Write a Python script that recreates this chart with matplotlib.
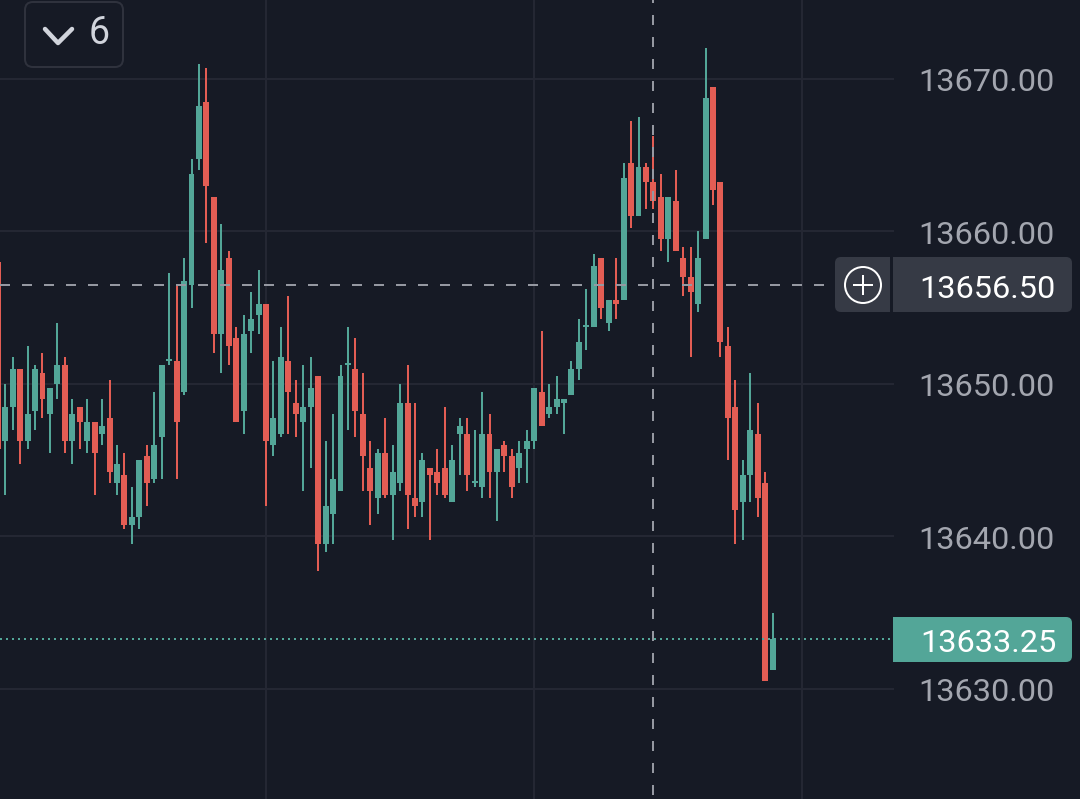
import matplotlib
matplotlib.use('Agg')
import matplotlib.pyplot as plt
from matplotlib.patches import FancyBboxPatch, Rectangle, Circle

opens = [13658, 13646.25, 13648.5, 13651, 13646.25, 13648.25, 13650.75, 13648, 13650, 13651.25,
         13646.25, 13648.5, 13646.25, 13647.5, 13646.75, 13647.75, 13643.5, 13644, 13640.75, 13641.25,
         13645.25, 13643.75, 13646.5, 13651.5, 13651.5, 13649.5, 13656.5, 13664.75, 13668.5, 13662.25,
         13653.25, 13658.25, 13653, 13648.25, 13653.5, 13654.5, 13655.25, 13646, 13646.75, 13651.5,
         13648.75, 13647.5, 13648.5, 13650.5, 13639.5, 13641.5, 13643, 13651.25, 13651, 13648,
         13644.5, 13642.5, 13645.5, 13642.75, 13643.5, 13648.75, 13642.5, 13642.25, 13644.5, 13644.25,
         13644.5, 13642.25, 13646.75, 13646.75, 13643.5, 13643.25, 13646.75, 13644.25, 13646, 13645.25,
         13644.5, 13645.75, 13646.25, 13649.5, 13648, 13648.5, 13648.75, 13649.25, 13651, 13653.75,
         13653.75, 13658.25, 13654, 13655.5, 13655.5, 13664.5, 13661, 13664.25, 13663.25, 13662.25,
         13659.5, 13662, 13658.25, 13657, 13655.25, 13659.5, 13669.5, 13663.25, 13652.5, 13648.5,
         13642.25, 13644, 13646.75, 13643.5, 13631.25]
highs = [13658, 13650, 13651.75, 13651, 13652.5, 13651.25, 13652, 13649.75, 13654, 13651.75,
         13649, 13648.5, 13649, 13647.5, 13649, 13650.25, 13646, 13645.5, 13643.25, 13645,
         13646, 13649.5, 13651.25, 13657.25, 13656.5, 13658.25, 13664.75, 13671, 13670.75, 13662.25,
         13660.5, 13658.75, 13653.75, 13654.5, 13656, 13657.5, 13655.25, 13651.5, 13653.75, 13655.75,
         13650.25, 13651.25, 13651.75, 13650.5, 13646.25, 13648, 13651.25, 13653.75, 13653, 13650.75,
         13646.25, 13645.75, 13647.75, 13646, 13650, 13651.25, 13648.75, 13645.5, 13644.5, 13645.75,
         13648.5, 13646, 13647.75, 13647.75, 13647, 13649.5, 13648, 13645.75, 13646.25, 13645.75,
         13646.25, 13647, 13649.75, 13653.5, 13650, 13650.5, 13649, 13651.5, 13654.25, 13656.25,
         13658.5, 13658.25, 13655.5, 13658.25, 13664.5, 13667.25, 13667.5, 13664.5, 13666.25, 13663.75,
         13662.25, 13664, 13659, 13659, 13660, 13672, 13669.5, 13663.25, 13653.75, 13650.25,
         13645, 13650.75, 13648.75, 13644.25, 13635]
lows = [13645.75, 13642.75, 13647, 13644.75, 13645.75, 13647, 13647.75, 13645.5, 13649, 13645.5,
        13644.75, 13645.75, 13645.5, 13642.75, 13646, 13643.5, 13642.75, 13640.5, 13639.5, 13640.5,
        13642, 13643.5, 13643.75, 13651.25, 13643.75, 13649.25, 13655, 13664, 13659.25, 13652,
        13650.75, 13651.25, 13647.5, 13646.75, 13652, 13653.25, 13642, 13645.25, 13646.5, 13646.75,
        13646.5, 13643, 13644.5, 13637.75, 13639, 13639.5, 13643, 13647, 13646.5, 13643,
        13640.75, 13641.5, 13642.5, 13639.75, 13643, 13640.5, 13641.25, 13641.25, 13639.75, 13642.75,
        13642.5, 13642.25, 13644, 13643, 13643.25, 13642.5, 13642.5, 13641, 13644.25, 13642.5,
        13643.5, 13643.5, 13645.75, 13647.25, 13647.75, 13648, 13646.75, 13649.25, 13650.25, 13652.25,
        13653.75, 13654.25, 13653.5, 13654.25, 13655.5, 13660.25, 13661, 13661.5, 13661.5, 13658.75,
        13658, 13658.75, 13655.75, 13651.75, 13654.75, 13659.5, 13661.75, 13651.75, 13645, 13639.5,
        13639.75, 13642.25, 13641.25, 13630.5, 13631.25]
closes = [13645.75, 13648.5, 13651, 13646.25, 13648, 13651, 13649, 13649.75, 13651.25, 13646.25,
          13648, 13647.5, 13647.5, 13645.5, 13647.25, 13644.25, 13644.75, 13640.75, 13641.25, 13645,
          13643.5, 13646, 13651.25, 13651.5, 13647.5, 13656.75, 13663.75, 13668.25, 13663, 13653.25,
          13657.5, 13652.5, 13647.5, 13653.25, 13654.25, 13655.25, 13646.25, 13647.75, 13651.75, 13649.5,
          13648, 13648.5, 13649.75, 13639.5, 13642, 13643.75, 13650.5, 13651.25, 13648.25, 13645.25,
          13643, 13645.5, 13642.75, 13644.25, 13648.75, 13642.75, 13642, 13645, 13644, 13643.5,
          13642.75, 13645, 13647.25, 13644, 13643.5, 13646.75, 13644.25, 13645.75, 13645.25, 13643.25,
          13645.5, 13646.25, 13649.75, 13647.25, 13648.5, 13649, 13649, 13651, 13652.75, 13653.75,
          13657.75, 13655, 13655.5, 13655.25, 13663.5, 13661, 13664.25, 13663.25, 13662, 13659.5,
          13662.25, 13658.75, 13657, 13656, 13658.25, 13668.75, 13662.75, 13652.75, 13647.75, 13641.75,
          13644, 13647, 13642.5, 13630.5, 13633.25]
price_ticks = [13630, 13640, 13650, 13660, 13670]
crosshair_price = 13656.50
last_price = 13633.25
crosshair_bar = 88
grid_bars = [36, 72, 107.9]
badge_count = "6"

BG = '#161a25'
GRID = '#242733'
UP = '#53a698'
DOWN = '#e35d54'
LABEL = '#a3a6af'
CROSS = '#9598a1'
PANEL = '#363a45'

px = 1 / 100 * 72  # one pixel in points

fig = plt.figure(figsize=(10.8, 7.99), dpi=100, facecolor=BG)
ax = fig.add_axes([0, 0, 1, 1], facecolor=BG)
ax.set_xlim(36 - 266 / 7.45, 36 + (1080 - 266) / 7.45)
ax.set_ylim(13630 - 110 / 15.25, 13630 + 689 / 15.25)
ax.axis('off')

# grid
plot_right = 893 / 1080
for p in price_ticks:
    ax.axhline(p, xmin=0, xmax=plot_right, color=GRID, lw=2 * px, zorder=1)
for b in grid_bars:
    ax.axvline(b, color=GRID, lw=2 * px, zorder=1)

# candles
bars = list(range(len(opens)))
colors = [UP if c >= o else DOWN for o, c in zip(opens, closes)]
ax.vlines(bars, lows, highs, colors=colors, lw=2 * px, zorder=2)
bottoms = [min(o, c) for o, c in zip(opens, closes)]
heights = [max(abs(c - o), 0.12) for o, c in zip(opens, closes)]
ax.bar(bars, heights, bottom=bottoms, width=0.8, color=colors, zorder=3)

# crosshair and last price line
ax.plot([ax.get_xlim()[0], 36 + (830 - 266) / 7.45], [crosshair_price, crosshair_price],
        color=CROSS, lw=2 * px, ls=(0, (5, 6)), zorder=4, dash_capstyle='butt')
ax.plot([crosshair_bar, crosshair_bar], [ax.get_ylim()[1], ax.get_ylim()[0]],
        color=CROSS, lw=2 * px, ls=(3.5, (5, 6)), zorder=4, dash_capstyle='butt')
ax.plot([ax.get_xlim()[0], 36 + (893 - 266) / 7.45], [last_price, last_price],
        color=UP, lw=2 * px, ls=(0, (1, 2)), zorder=4, dash_capstyle='butt')

# interface pieces, drawn in pixel coordinates
ui = fig.add_axes([0, 0, 1, 1])
ui.set_xlim(0, 1080)
ui.set_ylim(799, 0)
ui.axis('off')


def box(x0, y0, x1, y1, face, edge='none', r=6, lw=0):
    ui.add_patch(FancyBboxPatch((x0, y0), x1 - x0, y1 - y0, boxstyle=f'round,pad=0,rounding_size={r}',
                                fc=face, ec=edge, lw=lw))


box(835, 257, 1072, 312, PANEL)
ui.add_patch(Rectangle((890, 255), 3, 60, fc=BG, ec='none'))
ui.add_patch(Circle((863, 285), 18, fc='none', ec='white', lw=2 * px))
ui.plot([854, 872], [285, 285], color='white', lw=2 * px)
ui.plot([863, 863], [276, 294], color='white', lw=2 * px)

box(893, 617, 1072, 662, UP)
ui.add_patch(Rectangle((893, 617), 10, 45, fc=UP, ec='none'))

box(25, 2, 123, 67, BG, edge='#2f323d', r=8, lw=2 * px)
ui.plot([45, 58, 72], [29, 43, 29], color='#d1d4dc', lw=4.5 * px, solid_capstyle='round',
        solid_joinstyle='round')
ui.text(99, 34, badge_count, color='#d1d4dc', fontsize=27, family='Roboto', ha='center', va='center')

# price labels
trans = ax.get_yaxis_transform()
for p in price_ticks:
    ax.text(1055 / 1080, p - 1 / 15.25, f'{p:.2f}', transform=trans, color=LABEL, fontsize=23.4,
            family='Roboto', ha='right', va='center_baseline', zorder=5)
ui.text(1056, 286, f'{crosshair_price:.2f}', color='white', fontsize=23.4, family='Roboto',
        ha='right', va='center_baseline')
ui.text(1057, 640, f'{last_price:.2f}', color='white', fontsize=23.4, family='Roboto',
        ha='right', va='center_baseline')

fig.savefig('out.png', dpi=100, facecolor=BG)
